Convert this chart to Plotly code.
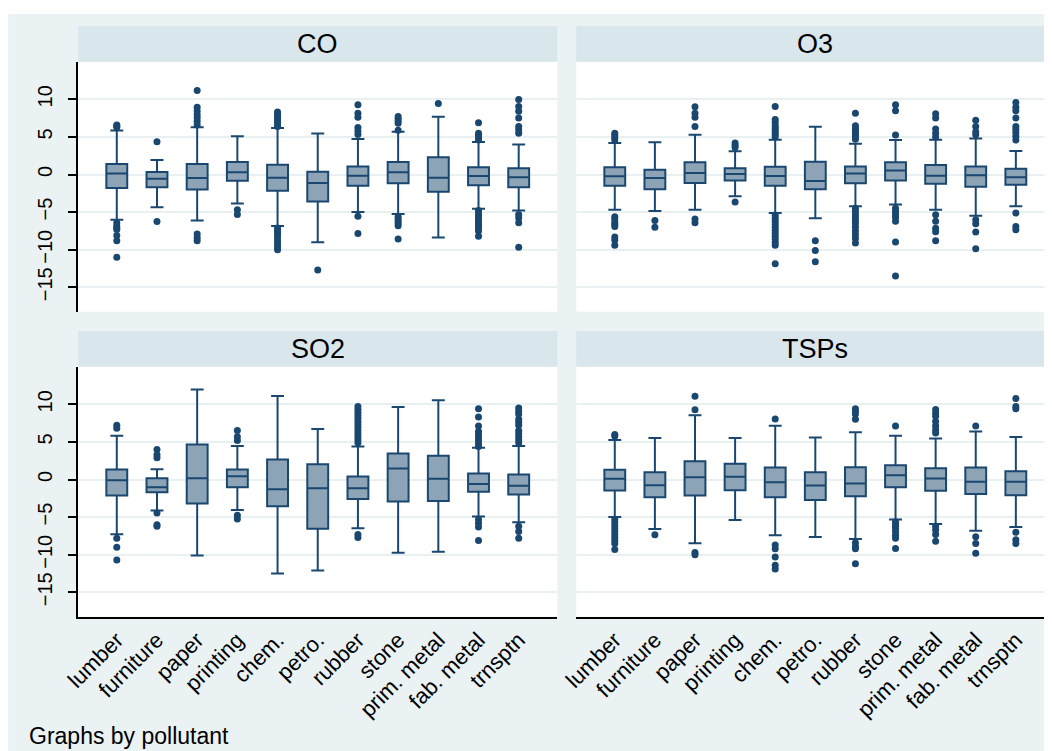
import plotly.graph_objects as go

W, H = 1052, 751

categories = ["lumber", "furniture", "paper", "printing", "chem.", "petro.",
              "rubber", "stone", "prim. metal", "fab. metal", "trnsptn"]
y_tickvals = [-15, -10, -5, 0, 5, 10]
y_ticktext = ["\u221215", "\u221210", "\u22125", "0", "5", "10"]

# ---- CO ----
co_lo  = [-6.0, -4.36, -6.13, -3.87, -6.84, -9.0, -4.98, -5.24, -8.38, -4.54, -4.8]
co_q1  = [-1.79, -1.7, -2.0, -0.82, -2.15, -3.6, -1.48, -1.17, -2.28, -1.44, -1.7]
co_med = [0.15, -0.55, -0.46, 0.29, -0.42, -1.13, -0.15, 0.29, -0.42, -0.2, -0.38]
co_q3  = [1.39, 0.33, 1.39, 1.66, 1.3, 0.38, 1.08, 1.66, 2.28, 0.95, 0.82]
co_hi  = [5.86, 1.92, 6.3, 5.1, 6.17, 5.46, 4.71, 5.69, 7.67, 4.31, 4.0]
co_out = [
    [6.3, 6.5, 6.6, -6.4, -6.8, -7.1, -7.3, -8.1, -8.8, -11.0],
    [4.36, -6.26],
    [11.17, 8.96, 8.43, 7.94, 7.5, 7.06, 6.6, -7.9, -8.4, -8.8],
    [-4.67, -5.33],
    [8.3, 8.1, 7.9, 7.6, 7.3, 7.0, 6.7, 6.4, -7.1, -7.4, -7.7, -8.0, -8.4, -8.8, -9.2, -9.6, -10.0],
    [-12.7],
    [9.27, 8.16, 7.6, 6.26, 5.8, 5.33, -5.55, -7.85],
    [7.7, 7.4, 7.1, 6.8, 5.9, -5.6, -5.9, -6.2, -6.5, -6.8, -8.56],
    [9.45],
    [6.88, 5.5, 5.2, 4.9, 4.6, -4.8, -5.1, -5.4, -5.7, -6.0, -6.3, -6.6, -6.9, -7.2, -7.5, -8.2],
    [9.98, 9.05, 8.4, 7.5, 6.4, 5.95, 5.5, -5.33, -5.77, -6.4, -9.67],
]

# ---- O3 ----
o3_lo  = [-4.7, -4.85, -4.67, -2.88, -5.13, -5.8, -4.23, -3.98, -4.7, -5.47, -4.23]
o3_q1  = [-1.48, -1.97, -1.13, -0.78, -1.48, -1.97, -1.17, -0.78, -1.22, -1.62, -1.37]
o3_med = [-0.24, -0.46, 0.2, 0.07, -0.2, -0.86, 0.15, 0.55, -0.15, -0.11, -0.38]
o3_q3  = [0.95, 0.64, 1.62, 0.82, 1.04, 1.7, 1.08, 1.62, 1.26, 1.08, 0.77]
o3_hi  = [4.18, 4.3, 5.29, 3.08, 4.62, 6.35, 4.09, 4.58, 4.62, 4.8, 3.12]
o3_out = [
    [5.5, 5.2, 4.9, 4.6, -5.6, -5.9, -6.3, -6.6, -6.9, -8.3, -8.7, -9.4],
    [-6.1, -7.0],
    [9.0, 8.16, 7.6, 6.4, -5.9, -6.4],
    [4.2, 3.9, 3.6, -3.67],
    [9.05, 7.3, 6.9, 6.5, 6.2, 5.9, 5.6, 5.3, 5.0, -5.4, -5.8, -6.2, -6.6, -7.0, -7.4, -7.8, -8.2, -8.6, -9.0, -9.4, -11.86],
    [-8.8, -10.1, -11.6],
    [8.16, 6.5, 6.2, 5.9, 5.6, 5.3, 5.0, 4.7, -4.5, -4.9, -5.3, -5.7, -6.1, -6.5, -7.0, -7.5, -8.0, -8.5, -9.1],
    [9.27, 8.47, 5.24, -4.5, -4.9, -5.3, -5.7, -6.2, -8.96, -13.5],
    [8.08, 7.5, 6.04, 5.5, 5.0, -5.35, -6.2, -7.15, -7.6, -8.8],
    [7.2, 6.4, 5.7, 5.3, -6.0, -6.55, -7.65, -9.87],
    [9.56, 8.95, 8.47, 7.5, 6.4, 6.0, 5.6, 5.1, 4.6, -5.13, -6.9, -7.35],
]

# ---- SO2 ----
so2_lo  = [-7.29, -4.13, -10.1, -4.04, -12.5, -12.1, -6.49, -9.73, -9.6, -4.93, -5.69]
so2_q1  = [-2.13, -1.69, -3.2, -1.02, -3.56, -6.53, -2.58, -2.93, -2.84, -1.64, -2.0]
so2_med = [-0.09, -1.02, 0.18, 0.44, -1.29, -1.16, -1.16, 1.47, 0.09, -0.58, -0.84]
so2_q3  = [1.33, 0.18, 4.67, 1.33, 2.67, 2.04, 0.4, 3.47, 3.16, 0.8, 0.67]
so2_hi  = [5.82, 1.38, 11.96, 4.44, 11.1, 6.7, 4.4, 9.64, 10.53, 4.22, 4.44]
so2_out = [
    [7.2, 6.8, -7.8, -9.0, -10.7],
    [4.0, 3.3, 2.9, -4.44, -6.0, -6.2],
    [],
    [6.53, 5.7, 5.2, -4.76, -5.24],
    [],
    [],
    [9.7, 9.3, 8.9, 8.5, 8.1, 7.7, 7.3, 6.9, 6.5, 6.1, 5.7, 5.3, 4.9, -7.3, -7.7],
    [],
    [],
    [9.4, 8.3, 7.1, 6.4, 6.0, 5.6, 5.2, 4.8, 4.4, -5.3, -5.8, -6.3, -8.1],
    [9.5, 9.1, 8.7, 8.0, 7.6, 7.2, 6.5, 6.1, 5.7, 5.3, 4.9, -6.2, -6.9, -7.8],
]

# ---- TSPs ----
tsp_lo  = [-4.98, -6.58, -8.49, -5.38, -7.42, -7.64, -7.91, -5.33, -5.91, -6.8, -6.31]
tsp_q1  = [-1.47, -2.36, -2.13, -1.42, -2.36, -2.71, -2.22, -1.02, -1.51, -1.91, -2.09]
tsp_med = [0.09, -0.76, 0.31, 0.36, -0.36, -0.8, -0.53, 0.58, 0.13, -0.31, -0.31]
tsp_q3  = [1.29, 0.98, 2.44, 2.09, 1.6, 0.98, 1.64, 1.91, 1.51, 1.6, 1.11]
tsp_hi  = [5.24, 5.51, 8.53, 5.51, 7.16, 5.6, 6.27, 5.82, 5.47, 6.4, 5.64]
tsp_out = [
    [5.8, 6.0, -5.3, -5.7, -6.1, -6.5, -6.9, -7.3, -7.7, -8.1, -8.5, -9.3],
    [-7.33],
    [11.07, 9.29, -9.7, -10.0],
    [],
    [8.04, -8.7, -9.2, -10.3, -11.4, -11.9],
    [],
    [9.4, 9.1, 8.7, 8.0, -8.4, -8.9, -9.2, -11.2],
    [7.1, -5.6, -5.9, -6.2, -6.5, -6.9, -7.4, -7.8, -9.16],
    [9.3, 8.8, 8.4, 7.7, 7.1, 6.6, 6.2, -6.2, -6.7, -7.3, -8.2],
    [7.1, -7.6, -8.5, -9.8],
    [10.76, 9.7, 9.4, -7.0, -8.0, -8.5],
]

# ---- styling ----
BG = "#EAF2F3"
STRIP = "#D9E6EB"
NAVY = "#1A476F"
FILL = "#8DA3B6"
GRID = "#E8F0F2"
FONT = "Liberation Sans, Arial, Helvetica, sans-serif"

# the page shows the figure with a small offset / horizontal squeeze; compensate
OX, SX, OY = 20.8, 0.9856, 8

def px(x):
    return ((x - OX) / SX) / W

def py(y):
    return 1 - (y - OY) / H

cols = [(76, 555), (574, 1052)]
rows = [(61.7, 311.7), (366.7, 616.7)]
strip_h = 35.8

panels = [
    ("CO", co_lo, co_q1, co_med, co_q3, co_hi, co_out, 0, 0),
    ("O3", o3_lo, o3_q1, o3_med, o3_q3, o3_hi, o3_out, 0, 1),
    ("SO2", so2_lo, so2_q1, so2_med, so2_q3, so2_hi, so2_out, 1, 0),
    ("TSPs", tsp_lo, tsp_q1, tsp_med, tsp_q3, tsp_hi, tsp_out, 1, 1),
]

fig = go.Figure()
shapes = [dict(type="rect", xref="paper", yref="paper", x0=px(6), x1=1.05, y0=-0.05, y1=py(14),
               fillcolor=BG, line=dict(width=0), layer="below")]
annotations = []
layout_axes = {}

for i, (name, lo, q1, med, q3, hi, out, r, c) in enumerate(panels):
    n = i + 1
    xa = "x" if n == 1 else f"x{n}"
    ya = "y" if n == 1 else f"y{n}"
    x0, x1 = cols[c]
    y0, y1 = rows[r]

    fig.add_trace(go.Box(
        x=categories, q1=q1, median=med, q3=q3, lowerfence=lo, upperfence=hi,
        xaxis=xa, yaxis=ya, fillcolor=FILL, line=dict(color=NAVY, width=2),
        width=0.52, whiskerwidth=0.62, boxpoints=False, showlegend=False,
        hoverinfo="skip"))

    ox, oy = [], []
    for cat, vals in zip(categories, out):
        for v in vals:
            ox.append(cat)
            oy.append(v)
    fig.add_trace(go.Scatter(
        x=ox, y=oy, mode="markers", xaxis=xa, yaxis=ya,
        marker=dict(color=NAVY, size=7), showlegend=False, hoverinfo="skip"))

    shapes.append(dict(type="rect", xref="paper", yref="paper",
                       x0=px(x0), x1=px(x1), y0=py(y1), y1=py(y0),
                       fillcolor="white", line=dict(width=0), layer="below"))
    shapes.append(dict(type="rect", xref="paper", yref="paper",
                       x0=px(x0), x1=px(x1), y0=py(y0), y1=py(y0 - strip_h),
                       fillcolor=STRIP, line=dict(width=0), layer="below"))
    annotations.append(dict(text=name, xref="paper", yref="paper",
                            x=px((x0 + x1) / 2), y=py(y0 - strip_h / 2),
                            showarrow=False, xanchor="center", yanchor="middle",
                            font=dict(size=27, color="black", family=FONT)))

    bottom = (r == 1)
    left = (c == 0)
    layout_axes["xaxis" if n == 1 else f"xaxis{n}"] = dict(
        domain=[px(x0), px(x1)], anchor=ya, type="category",
        categoryorder="array", categoryarray=categories,
        range=[-0.96, 10.96], showgrid=False, zeroline=False,
        showline=bottom, linecolor="black", linewidth=1.5,
        ticks="", showticklabels=bottom, tickangle=-45,
        tickfont=dict(size=22, color="black", family=FONT))
    layout_axes["yaxis" if n == 1 else f"yaxis{n}"] = dict(
        domain=[py(y1), py(y0)], anchor=xa, range=[-18.24, 15],
        tickvals=y_tickvals, ticktext=y_ticktext,
        showgrid=True, gridcolor=GRID, gridwidth=1.5, zeroline=False,
        showline=left, linecolor="black", linewidth=1.5,
        ticks="outside" if left else "", ticklen=8, tickwidth=1.5, tickcolor="black",
        showticklabels=left, tickangle=-90, ticklabelstandoff=8,
        tickfont=dict(size=20, color="black", family=FONT))

annotations.append(dict(text="Graphs by pollutant", xref="paper", yref="paper",
                        x=px(25), y=py(736), showarrow=False,
                        xanchor="left", yanchor="middle",
                        font=dict(size=23, color="black", family=FONT)))

fig.update_layout(
    width=W, height=H, margin=dict(l=0, r=0, t=0, b=0),
    paper_bgcolor="white", plot_bgcolor="rgba(0,0,0,0)",
    shapes=shapes, annotations=annotations, showlegend=False,
    font=dict(family=FONT, color="black"),
    **layout_axes)

fig.write_html("out.html")
